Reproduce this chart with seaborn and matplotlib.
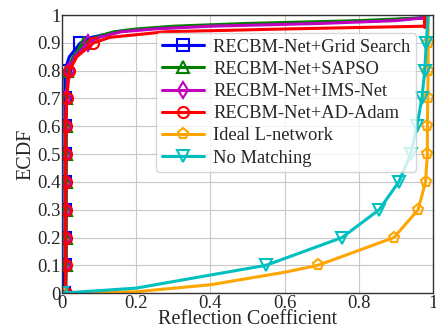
import matplotlib
matplotlib.use("Agg")
import matplotlib.pyplot as plt
import seaborn as sns
import numpy as np

ecdf_levels = [0.0, 0.1, 0.2, 0.3, 0.4, 0.5, 0.6, 0.7, 0.8, 0.85, 0.9, 0.92, 0.94, 0.95, 0.96, 0.97, 0.98, 0.99, 1.0]
marker_idx = [0, 1, 2, 3, 4, 5, 6, 7, 8, 10]

grid_search = [0.005, 0.008, 0.008, 0.008, 0.008, 0.008, 0.008, 0.008, 0.008, 0.02, 0.05, 0.08, 0.15, 0.22, 0.35, 0.6, 0.85, 0.975, 0.98]
sapso = [0.01, 0.012, 0.012, 0.012, 0.012, 0.012, 0.012, 0.012, 0.015, 0.03, 0.06, 0.09, 0.14, 0.2, 0.3, 0.5, 0.8, 0.975, 0.98]
ims_net = [0.01, 0.01, 0.01, 0.01, 0.01, 0.01, 0.01, 0.012, 0.018, 0.035, 0.07, 0.1, 0.16, 0.25, 0.4, 0.7, 0.9, 0.975, 0.98]
ad_adam = [0.01, 0.01, 0.01, 0.01, 0.01, 0.01, 0.01, 0.013, 0.02, 0.04, 0.085, 0.13, 0.28, 0.6, 0.978, 0.978, 0.978, 0.978, 0.98]
ideal_l = [0.01, 0.69, 0.895, 0.96, 0.98, 0.985, 0.985, 0.986, 0.987, 0.987, 0.987, 0.987, 0.987, 0.987, 0.987, 0.987, 0.987, 0.987, 0.987]
no_match = [0.02, 0.55, 0.755, 0.855, 0.908, 0.94, 0.957, 0.97, 0.978, 0.98, 0.982, 0.983, 0.984, 0.985, 0.985, 0.986, 0.986, 0.987, 0.987]

# low tails of the two slow curves (x, ecdf)
ideal_tail_x = [0.0, 0.2, 0.4, 0.6]
ideal_tail_y = [0.0, 0.005, 0.03, 0.075]
nomatch_tail_x = [0.0, 0.2, 0.4]
nomatch_tail_y = [0.0, 0.018, 0.065]

labels = ["RECBM-Net+Grid Search", "RECBM-Net+SAPSO", "RECBM-Net+IMS-Net",
          "RECBM-Net+AD-Adam", "Ideal L-network", "No Matching"]
colors = ["#0000ff", "#008000", "#bf00bf", "#ff0000", "#ffa500", "#00bfbf"]
markers = ["s", "^", "d", "o", "p", "v"]

sns.set_theme(style="whitegrid")
plt.rcParams["font.family"] = ["Liberation Serif", "DejaVu Serif"]

fig = plt.figure(figsize=(4.36, 3.35), dpi=100)
ax = fig.add_axes([0.142, 0.125, 0.851, 0.830])

series = [grid_search, sapso, ims_net, ad_adam, ideal_l, no_match]
for i, xs in enumerate(series):
    x = list(xs)
    y = list(ecdf_levels)
    mk = list(marker_idx)
    if i == 4:
        x = ideal_tail_x + x[1:]
        y = ideal_tail_y + y[1:]
        mk = [0] + [m + len(ideal_tail_x) - 1 for m in marker_idx[1:]]
    elif i == 5:
        x = nomatch_tail_x + x[1:]
        y = nomatch_tail_y + y[1:]
        mk = [0] + [m + len(nomatch_tail_x) - 1 for m in marker_idx[1:]]
    if i == 3:
        # AD-Adam plateaus around 0.955 before its final jump
        y = y[:-1] + [0.955, 1.0]
        x = x[:-1] + [0.978, 0.985]
    ax.plot(x, y, color=colors[i], marker=markers[i], markevery=mk,
            markerfacecolor="none", markeredgewidth=1.5, markersize=8,
            linewidth=2.2, label=labels[i])

ax.set_xlim(0, 1)
ax.set_ylim(0, 1)
ax.set_xticks([0, 0.2, 0.4, 0.6, 0.8, 1])
ax.set_xticklabels(["0", "0.2", "0.4", "0.6", "0.8", "1"])
ax.set_yticks(np.arange(0, 1.01, 0.1))
ax.set_yticklabels(["0"] + [f"{v:.1f}" for v in np.arange(0.1, 0.95, 0.1)] + ["1"])
ax.tick_params(labelsize=13.5, pad=1, length=0)
ax.set_xlabel("Reflection Coefficient", fontsize=14.5, labelpad=-1)
ax.set_ylabel("ECDF", fontsize=14.5, labelpad=1)
for s in ax.spines.values():
    s.set_color("#333333")
    s.set_linewidth(1.0)
ax.grid(color="#c8c8c8", linewidth=0.8)

leg = ax.legend(loc="upper right", bbox_to_anchor=(0.955, 0.935), fontsize=13.3,
                frameon=True, handlelength=2.3, labelspacing=0.28, borderpad=0.3,
                handletextpad=0.5, borderaxespad=0)
leg.get_frame().set_edgecolor("#cccccc")

fig.savefig("out.png", dpi=100)
